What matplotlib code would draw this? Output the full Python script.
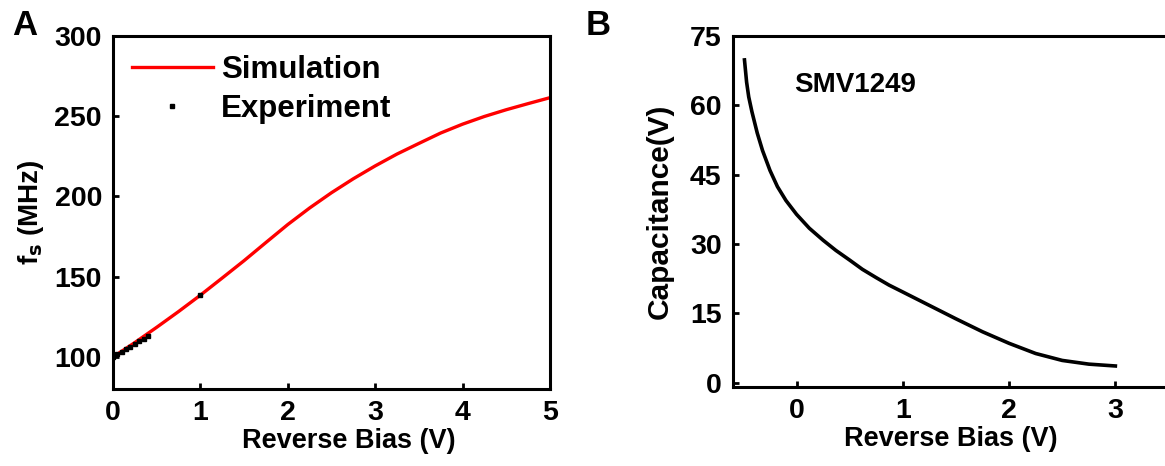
import numpy as np
import matplotlib
matplotlib.use('Agg')
import matplotlib.pyplot as plt

plt.rcParams['font.family'] = ['Liberation Sans', 'DejaVu Sans']
plt.rcParams['font.weight'] = 'bold'

# panel A: resonance frequency vs reverse bias
sim_bias = [0.0, 0.25, 0.5, 0.75, 1.0, 1.25, 1.5, 1.75, 2.0, 2.25, 2.5, 2.75,
            3.0, 3.25, 3.5, 3.75, 4.0, 4.25, 4.5, 4.75, 5.0]
sim_freq = [100.0, 109.0, 118.5, 128.3, 138.5, 149.2, 160.0, 171.3, 182.5, 192.8,
            202.3, 211.0, 219.0, 226.4, 233.0, 239.5, 245.0, 249.8, 254.0, 257.8, 261.5]
exp_bias = [0.0, 0.05, 0.1, 0.15, 0.2, 0.25, 0.3, 0.35, 0.4, 1.0]
exp_freq = [100.0, 101.6, 103.2, 104.9, 106.5, 108.1, 109.8, 111.4, 113.0, 138.8]

# panel B: SMV1249 capacitance vs reverse bias
cap_bias = [-0.49, -0.47, -0.45, -0.42, -0.37, -0.32, -0.25, -0.18, -0.1, 0.0, 0.12,
            0.25, 0.37, 0.5, 0.62, 0.75, 0.87, 1.0, 1.25, 1.5, 1.75, 2.0, 2.25, 2.5,
            2.75, 3.0]
cap_val = [69.8, 65.0, 61.8, 58.6, 54.0, 50.2, 45.9, 42.4, 39.4, 36.4, 33.4,
           30.8, 28.6, 26.5, 24.5, 22.7, 21.1, 19.6, 16.7, 13.8, 11.0, 8.5, 6.3,
           4.8, 4.0, 3.6]

fig = plt.figure(figsize=(11.65, 4.66), dpi=100)
ax1 = fig.add_axes([0.097, 0.165, 0.375, 0.758])
ax2 = fig.add_axes([0.629, 0.169, 0.374, 0.754])

ax1.plot(sim_bias, sim_freq, color='#ff0000', lw=2.4, label='Simulation', zorder=2)
ax1.plot(exp_bias, exp_freq, ls='none', marker='s', ms=2.4, color='black',
         label='Experiment', zorder=3)
ax1.set_xlim(0, 5)
ax1.set_ylim(80, 300)
ax1.set_xticks([0, 1, 2, 3, 4, 5])
ax1.set_yticks([100, 150, 200, 250, 300])
ax1.set_xlabel('Reverse Bias (V)', fontsize=19.5, fontweight='bold', labelpad=1)
ax1.xaxis.label.set_x(0.54)
ax1.set_ylabel(r'f$_\mathbf{s}$ (MHz)', fontsize=20, fontweight='bold', labelpad=6)
ax1.legend(loc='upper left', frameon=False, handlelength=2.6,
           handletextpad=0.25, borderaxespad=0.2, labelspacing=0.3,
           prop={'weight': 'bold', 'size': 22.5})

ax2.plot(cap_bias, cap_val, color='black', lw=2.6)
ax2.set_xlim(-0.6, 3.5)
ax2.set_ylim(-1, 75)
ax2.set_xticks([0, 1, 2, 3])
ax2.set_yticks([0, 15, 30, 45, 60, 75])
ax2.set_xlabel('Reverse Bias (V)', fontsize=19.5, fontweight='bold', labelpad=1)
ax2.set_ylabel('Capacitance(V)', fontsize=21.5, fontweight='bold', labelpad=12)
ax2.text(0.55, 64.4, 'SMV1249', fontsize=20, fontweight='bold', ha='center', va='center')

for ax in (ax1, ax2):
    for sp in ax.spines.values():
        sp.set_linewidth(2.2)
    ax.tick_params(direction='in', length=4.5, width=2, labelsize=20.5, pad=8,
                   top=False, right=False)
    for lbl in ax.get_xticklabels() + ax.get_yticklabels():
        lbl.set_fontweight('bold')

fig.text(0.010, 0.925, 'A', fontsize=25, fontweight='bold')
fig.text(0.503, 0.925, 'B', fontsize=25, fontweight='bold')

fig.savefig('out.png', dpi=100)
